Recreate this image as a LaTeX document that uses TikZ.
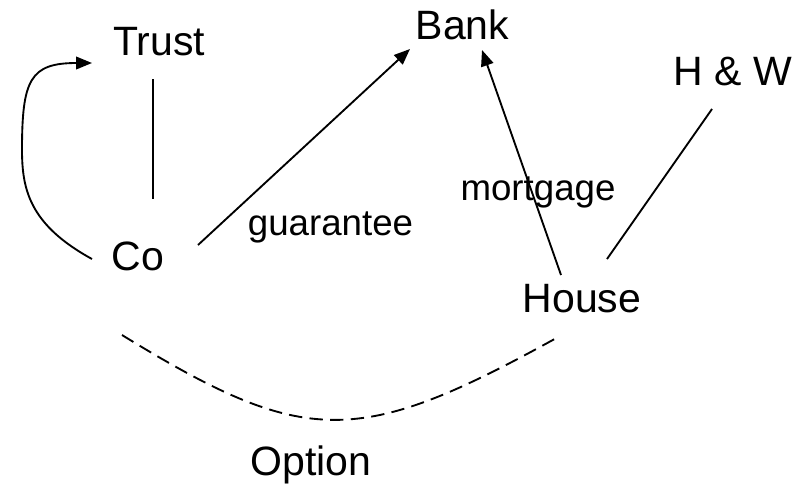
\documentclass[tikz,border=0pt]{standalone}
\usepackage{fontspec}
\setmainfont{Liberation Sans}
\usetikzlibrary{arrows.meta,calc}

\tikzset{
  party/.style={inner sep=0pt, anchor=base, font=\fontsize{30.75}{36}\selectfont},
  tag/.style={inner sep=0pt, anchor=base, font=\fontsize{27.5}{33}\selectfont},
  link/.style={line width=1.4pt},
  claim/.style={line width=1.4pt, -{Triangle[length=12pt,width=9.5pt]}},
  optionlink/.style={line width=1.4pt, dash pattern=on 10pt off 5.5pt},
}

\begin{document}
\begin{tikzpicture}[x=0.75pt,y=-0.75pt]
  \useasboundingbox (0,0) rectangle (809,487);

  % parties
  \node[party] (trust) at (159,55) {Trust};
  \node[party] (bank)  at (462.5,39) {Bank};
  \node[party] (hw)    at (733,85) {H \& W};
  \node[party] (co)    at (138,270) {Co};
  \node[party] (house) at (582,312) {House};
  \node[party] (option) at (311,475) {Option};

  % edge labels
  \node[tag] (guar) at (330.5,235) {guarantee};
  \node[tag] (mort) at (538,200) {mortgage};

  % Trust owns Co
  \draw[link] ($(trust.base)+(-6,24)$) -- ($(co.base)+(15,-71)$);

  % Co loops back to Trust
  \draw[claim] ($(co.base)+(-46,-11)$)
      .. controls (30,225) and (22,190) .. (22,150)
      .. controls (22,80) and (30,63) .. ($(trust.base)+(-67,8)$);

  % guarantee to the bank
  \draw[claim] ($(co.base)+(60,-25)$) -- ($(bank.base)+(-52.5,10)$);

  % mortgage on the house
  \draw[claim] ($(house.base)+(-21,-37)$) -- ($(bank.base)+(19.5,11)$);

  % H & W own the house
  \draw[link] ($(house.base)+(25,-53)$) -- ($(hw.base)+(-21,24)$);

  % option between Co and the house
  \draw[optionlink] ($(co.base)+(-16,65)$)
      .. controls (306,448) and (358,448) .. ($(house.base)+(-22,24)$);
\end{tikzpicture}
\end{document}
